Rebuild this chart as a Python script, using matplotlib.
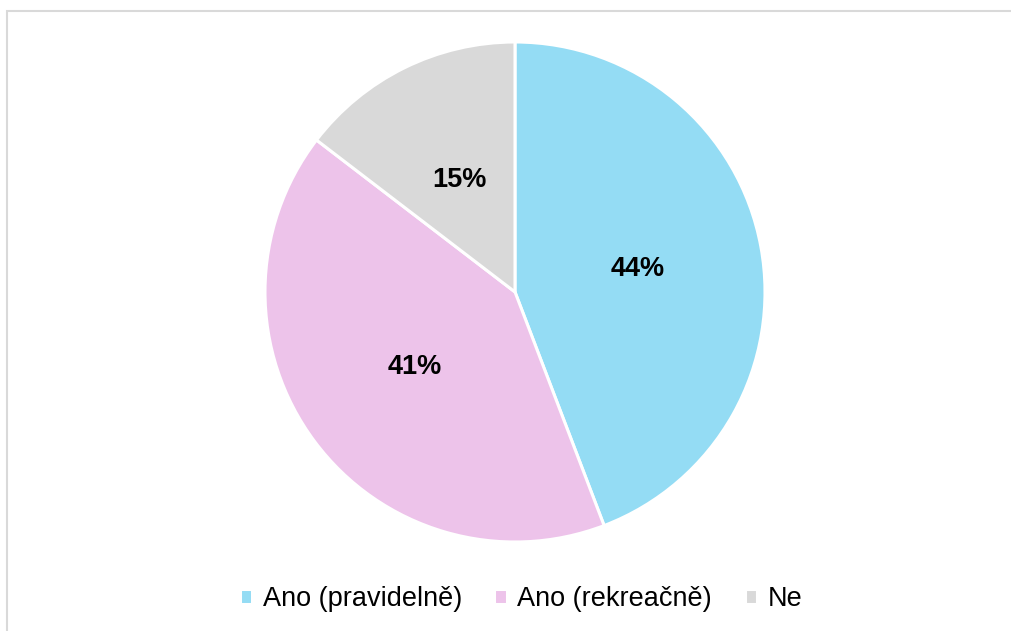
import matplotlib.pyplot as plt
from matplotlib.patches import Rectangle

# survey answers, share in %
labels = ['Ano (pravidelně)', 'Ano (rekreačně)', 'Ne']
values = [44.2, 41.2, 14.6]
colors = ['#94DCF4', '#EDC3EA', '#D9D9D9']

plt.rcParams['font.family'] = ['Liberation Sans', 'DejaVu Sans']

W, H = 1011, 631
fig = plt.figure(figsize=(W / 100, H / 100), dpi=100)

# light frame around the chart area
fig.patches.append(Rectangle((7 / W, -0.05), 1.05, 1 - 11 / H + 0.05, transform=fig.transFigure,
                             fill=False, edgecolor='#D9D9D9', linewidth=1.5))

# pie centre (515, 292), radius 250 px
ax = fig.add_axes([(515 - 250) / W, (H - 542) / H, 500 / W, 500 / H])
wedges, texts, autotexts = ax.pie(values, colors=colors, startangle=90, counterclock=False,
                                  autopct='%.0f%%', pctdistance=0.5, radius=1,
                                  wedgeprops=dict(edgecolor='white', linewidth=2.2),
                                  textprops=dict(fontsize=19.5, fontweight='bold', color='black'))
ax.set_xlim(-1, 1)
ax.set_ylim(-1, 1)
ax.set_aspect('equal')
ax.axis('off')

fig.legend(wedges, labels, loc='center', bbox_to_anchor=(521 / W, 1 - 599 / H), ncol=3,
           frameon=False, fontsize=19.5, handlelength=0.45, handleheight=0.45,
           handletextpad=0.4, columnspacing=1.2)

fig.savefig('out.png', dpi=100)
